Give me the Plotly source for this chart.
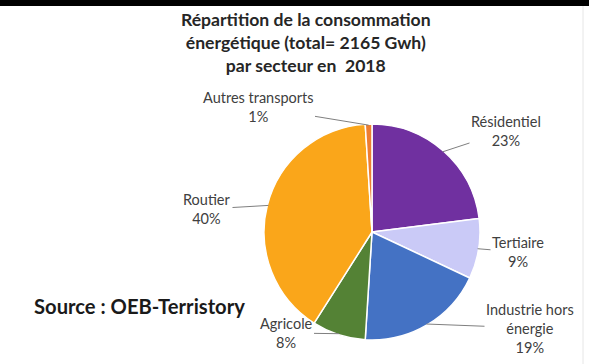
import math
import plotly.graph_objects as go

# ---- data ----
sectors = ["Résidentiel", "Tertiaire", "Industrie hors<br>énergie", "Agricole", "Routier", "Autres transports"]
shares = [23, 9, 19, 8, 40, 1]
colors = ["#7030A0", "#CACAF7", "#4472C4", "#548235", "#FAA61A", "#ED7D31"]
title_lines = ["Répartition de la consommation", "énergétique (total= 2165 Gwh)", "par secteur en  2018"]
source_text = "Source : OEB-Terristory"

W, H = 589, 364
CX, CY, R = 372, 232, 108

# label text centres (pixels) for each sector
label_pos = [(506, 131), (518, 252), (530, 328), (286, 333), (207, 209), (258, 107)]


def px(x, y):
    return x / W, 1 - y / H


fig = go.Figure()
fig.add_trace(go.Pie(
    labels=sectors, values=shares, sort=False, direction="clockwise", rotation=0,
    marker=dict(colors=colors, line=dict(color="white", width=1.5)),
    textinfo="none", hoverinfo="skip", showlegend=False,
    domain=dict(x=[(CX - R) / W, (CX + R) / W], y=[(H - CY - R) / H, (H - CY + R) / H]),
))

total = sum(shares)
cum = 0
annotations = []
for name, v, (lx, ly) in zip(sectors, shares, label_pos):
    mid = (cum + v / 2) / total * 2 * math.pi
    cum += v
    rx = CX + R * 0.99 * math.sin(mid)
    ry = CY - R * 0.99 * math.cos(mid)
    pct = round(v / total * 100)
    x, y = px(rx, ry)
    annotations.append(dict(
        x=x, y=y, xref="paper", yref="paper",
        text=f"{name}<br>{pct}%", showarrow=True, arrowhead=0, arrowwidth=1,
        arrowcolor="#7F7F7F", ax=lx - rx, ay=ly - ry, standoff=0,
        font=dict(family="Lato", size=14.5, color="#404040"), align="center",
    ))

annotations.append(dict(
    x=px(306, 0)[0], y=px(0, 42)[1], xref="paper", yref="paper",
    text="<br>".join(f"<b>{t}</b>" for t in title_lines), showarrow=False,
    font=dict(family="Lato", size=17.6, color="#262626"), align="center",
    xanchor="center", yanchor="middle",
))
annotations.append(dict(
    x=px(32, 0)[0], y=px(0, 306)[1], xref="paper", yref="paper",
    text=f"<b>{source_text}</b>", showarrow=False,
    font=dict(family="Lato", size=20.2, color="#1a1a1a"),
    xanchor="left", yanchor="middle",
))

fig.update_layout(
    width=W, height=H, margin=dict(l=0, r=0, t=0, b=0),
    paper_bgcolor="white", plot_bgcolor="white",
    annotations=annotations,
    shapes=[
        dict(type="rect", xref="paper", yref="paper", x0=0, x1=1, y0=px(0, 6)[1], y1=1,
             fillcolor="black", line=dict(width=0)),
        dict(type="line", xref="paper", yref="paper", x0=583 / W, x1=583 / W, y0=0, y1=px(0, 6)[1],
             line=dict(color="#E6E6E6", width=1)),
    ],
)
fig.write_html("out.html")
